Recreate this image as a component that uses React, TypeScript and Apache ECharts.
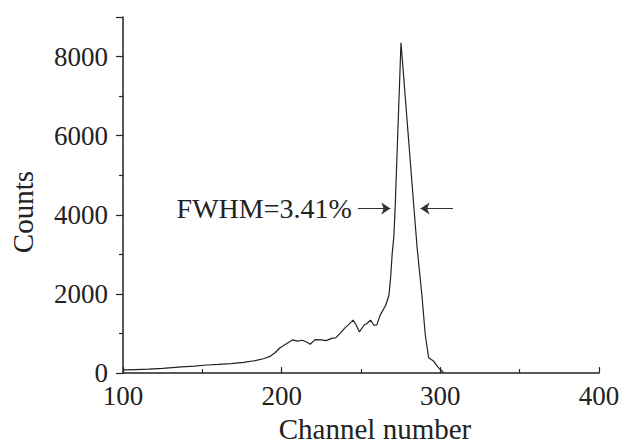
import React, { useEffect, useRef } from "react";
import * as echarts from "echarts";

const channels = [
  100, 108, 116, 125, 137, 145, 153, 160, 168, 176, 184, 189, 193, 196, 199,
  203, 207, 210, 213, 216, 218, 221, 225, 228, 232, 234, 237, 240, 242, 245,
  247, 249, 252, 254, 256, 258, 260, 262, 265.5, 267.6, 268.6, 269.7, 270.7,
  271.5, 275.2, 283.4, 285.3, 288.4, 290.5, 292.6, 295.7, 298.8, 302,
];
const counts = [
  80, 90, 100, 120, 155, 175, 205, 220, 240, 270, 320, 370, 430, 520, 640,
  740, 840, 810, 830, 780, 730, 845, 840, 820, 885, 890, 1010, 1150, 1220, 1340,
  1215, 1040, 1215, 1260, 1340, 1215, 1220, 1460, 1710, 1960, 2380, 3040, 3450,
  4150, 8350, 4160, 3200, 1960, 970, 390, 305, 140, 15,
];

const fwhmLabel = "FWHM=3.41%";
const fwhmLevel = 4160;
const leftArrow = [248, 268.5];
const rightArrow = [308, 287.5];

const FONT = "Liberation Serif";

export default function App() {
  const ref = useRef<HTMLDivElement>(null);
  useEffect(() => {
    if (!ref.current) return;
    const chart = echarts.init(ref.current, undefined, { renderer: "svg" });
    chart.setOption({
      animation: false,
      backgroundColor: "#ffffff",
      grid: { left: 118, right: 36, top: 17, bottom: 69 },
      xAxis: {
        type: "value",
        min: 100,
        max: 400,
        interval: 100,
        name: "Channel number",
        nameLocation: "middle",
        nameGap: 38,
        nameTextStyle: {
          fontFamily: FONT,
          fontSize: 29,
          color: "#222",
          padding: [0, 0, 0, 28],
        },
        axisLine: { lineStyle: { color: "#222", width: 1.5 } },
        axisTick: { inside: true, length: 6, lineStyle: { color: "#222", width: 1.2 } },
        minorTick: { show: true, splitNumber: 2, length: 4, lineStyle: { color: "#222", width: 1.2 } },
        axisLabel: {
          fontFamily: FONT,
          fontSize: 27,
          color: "#222",
          margin: 9,
          formatter: (v: number) => String(v),
        },
        splitLine: { show: false },
      },
      yAxis: {
        type: "value",
        min: 0,
        max: 9000,
        interval: 2000,
        name: "Counts",
        nameLocation: "middle",
        nameGap: 86,
        nameTextStyle: {
          fontFamily: FONT,
          fontSize: 29,
          color: "#222",
          padding: [0, 34, 0, 0],
        },
        axisLine: { lineStyle: { color: "#222", width: 1.5 } },
        axisTick: { inside: false, length: 7, lineStyle: { color: "#222", width: 1.2 } },
        minorTick: { show: true, splitNumber: 2, length: 4, lineStyle: { color: "#222", width: 1.2 } },
        axisLabel: {
          fontFamily: FONT,
          fontSize: 27,
          color: "#222",
          margin: 15,
          showMaxLabel: false,
          formatter: (v: number) => (v > 8000 ? "" : String(v)),
        },
        splitLine: { show: false },
      },
      series: [
        {
          type: "line",
          data: channels.map((c, i) => [c, counts[i]]),
          symbol: "none",
          lineStyle: { color: "#222", width: 1.2 },
          silent: true,
          markLine: {
            silent: true,
            symbol: ["none", "arrow"],
            symbolSize: 9,
            lineStyle: { color: "#333", width: 1, type: "solid" },
            label: { show: false },
            data: [
              [
                {
                  coord: [leftArrow[0], fwhmLevel],
                  label: {
                    show: true,
                    position: "start",
                    formatter: fwhmLabel,
                    fontFamily: FONT,
                    fontSize: 28,
                    color: "#222",
                    distance: 6,
                  },
                },
                { coord: [leftArrow[1], fwhmLevel] },
              ],
              [
                { coord: [rightArrow[0], fwhmLevel] },
                { coord: [rightArrow[1], fwhmLevel] },
              ],
            ],
          },
        },
      ],
    });
    return () => chart.dispose();
  }, []);
  return (
    <div
      ref={ref}
      style={{ position: "fixed", left: 0, top: 0, width: 635, height: 448 }}
    />
  );
}
